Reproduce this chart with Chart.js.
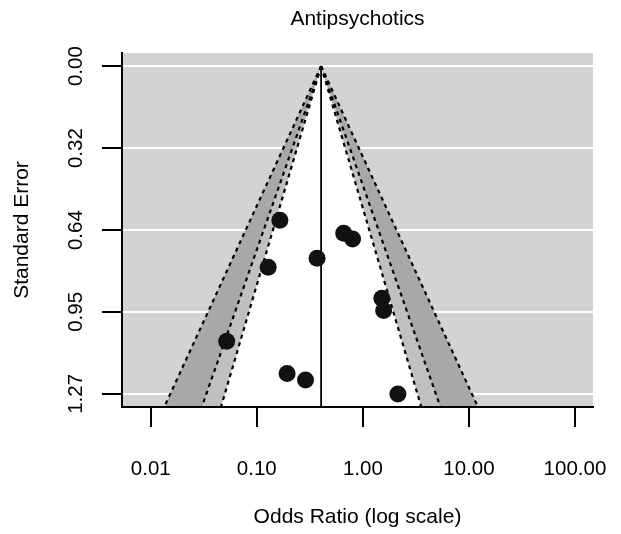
<!DOCTYPE html>
<html>
<head>
<meta charset="utf-8">
<title>Antipsychotics funnel plot</title>
<script src="https://cdn.jsdelivr.net/npm/chart.js@4/dist/chart.umd.min.js"></script>
<style>
  html, body { margin: 0; padding: 0; background: #ffffff; }
  #plot { display: block; }
</style>
</head>
<body>
<canvas id="plot" width="621" height="534"></canvas>
<script>
// Study-level odds ratios and their standard errors (log-odds scale)
const studyOR = [0.165, 0.66, 0.80, 0.37, 0.128, 1.51, 1.57, 0.052, 0.193, 0.288, 2.14];
const studySE = [0.598, 0.648, 0.670, 0.745, 0.780, 0.900, 0.948, 1.067, 1.192, 1.217, 1.271];

// Pooled estimate (odds ratio) at the centre of the funnel
const pooledOR = 0.404;

// Contour levels (%) and the matching two-sided critical values
const contourLevels = [90, 95, 99];
const zCrit = [1.645, 1.960, 2.576];
const contourShades = ['#ffffff', '#c0c0c0', '#a8a8a8'];

// Axis ticks
const xTicks = [0.01, 0.1, 1, 10, 100];
const xTickLabels = ['0.01', '0.10', '1.00', '10.00', '100.00'];
const seTicks = [0, 0.318, 0.636, 0.953, 1.271];
const seTickLabels = ['0.00', '0.32', '0.64', '0.95', '1.27'];

const FONT_FAMILY = '"Liberation Sans", Arial, Helvetica, sans-serif';
const baseFont = { family: FONT_FAMILY, size: 20.5, weight: 'normal' };
const titleFont = { family: FONT_FAMILY, size: 21, weight: 'normal' };

// Panel background, funnel contours, reference line and rotated SE labels
const funnelPlugin = {
  id: 'funnel',
  beforeDraw(chart) {
    const { ctx, chartArea: a } = chart;
    ctx.save();
    ctx.fillStyle = '#d3d3d3';
    ctx.fillRect(a.left, a.top, a.right - a.left, a.bottom - a.top);
    ctx.restore();
  },
  beforeDatasetsDraw(chart) {
    const { ctx, chartArea: a, scales: { x, y } } = chart;
    const est = Math.log(pooledOR);
    const seBottom = y.max;
    const apexX = x.getPixelForValue(pooledOR);
    const apexY = y.getPixelForValue(0);
    const yb = y.getPixelForValue(seBottom);

    ctx.save();
    ctx.beginPath();
    ctx.rect(a.left + 1, a.top, a.right - a.left - 1, a.bottom - a.top - 1);
    ctx.clip();

    const edges = zCrit.map(z => ({
      xl: x.getPixelForValue(Math.exp(est - z * seBottom)),
      xr: x.getPixelForValue(Math.exp(est + z * seBottom))
    }));

    // filled regions, widest first
    for (let i = edges.length - 1; i >= 0; i--) {
      const e = edges[i];
      ctx.beginPath();
      ctx.moveTo(e.xl, yb);
      ctx.lineTo(apexX, apexY);
      ctx.lineTo(e.xr, yb);
      ctx.closePath();
      ctx.fillStyle = contourShades[i];
      ctx.fill();
    }

    // dotted contour boundaries
    ctx.setLineDash([4, 4]);
    ctx.lineWidth = 2.2;
    ctx.strokeStyle = '#000000';
    edges.forEach(e => {
      ctx.beginPath();
      ctx.moveTo(apexX, apexY);
      ctx.lineTo(e.xl, yb);
      ctx.stroke();
      ctx.beginPath();
      ctx.moveTo(apexX, apexY);
      ctx.lineTo(e.xr, yb);
      ctx.stroke();
    });

    // solid reference line at the pooled estimate
    ctx.setLineDash([]);
    ctx.lineWidth = 1.8;
    ctx.beginPath();
    ctx.moveTo(apexX, apexY);
    ctx.lineTo(apexX, a.bottom);
    ctx.stroke();
    ctx.restore();
  },
  afterDraw(chart) {
    const { ctx, scales: { y } } = chart;
    ctx.save();
    ctx.fillStyle = '#000000';
    ctx.font = `${baseFont.size}px ${FONT_FAMILY}`;
    ctx.textAlign = 'center';
    ctx.textBaseline = 'alphabetic';
    seTicks.forEach((v, i) => {
      const py = y.getPixelForValue(v);
      ctx.save();
      ctx.translate(81.5, py);
      ctx.rotate(-Math.PI / 2);
      ctx.fillText(seTickLabels[i], 0, 0);
      ctx.restore();
    });
    ctx.restore();
  }
};

new Chart(document.getElementById('plot'), {
  type: 'scatter',
  data: {
    datasets: [{
      label: 'Studies',
      data: studyOR.map((or, i) => ({ x: or, y: studySE[i] })),
      pointRadius: 8.5,
      pointHoverRadius: 8.5,
      backgroundColor: '#111111',
      borderWidth: 0
    }]
  },
  options: {
    responsive: false,
    animation: false,
    devicePixelRatio: 1,
    layout: { padding: { left: 0, right: 28, top: 0, bottom: 0 } },
    plugins: {
      legend: { display: false },
      tooltip: { enabled: false },
      title: {
        display: true,
        text: 'Antipsychotics',
        fullSize: false,
        color: '#000000',
        font: titleFont,
        padding: { top: 7, bottom: 20.8 }
      }
    },
    scales: {
      x: {
        type: 'logarithmic',
        position: 'bottom',
        min: Math.pow(10, -2.271),
        max: Math.pow(10, 2.170),
        bounds: 'data',
        afterBuildTicks: s => { s.ticks = xTicks.map(v => ({ value: v })); },
        afterFit: s => {
          s.height = 127;
          s.paddingLeft = 0;
          s.paddingRight = 0;
        },
        grid: {
          display: true,
          drawOnChartArea: false,
          drawTicks: true,
          tickLength: 20,
          color: '#000000',
          lineWidth: 2
        },
        border: { display: true, color: '#000000', width: 2 },
        ticks: {
          color: '#000000',
          font: baseFont,
          padding: 30.5,
          autoSkip: false,
          maxRotation: 0,
          callback: (v, i) => xTickLabels[i]
        },
        title: {
          display: true,
          text: 'Odds Ratio (log scale)',
          color: '#000000',
          font: titleFont,
          padding: { top: 0, bottom: 4.4 }
        }
      },
      y: {
        type: 'linear',
        reverse: true,
        min: -0.0508,
        max: 1.3218,
        bounds: 'data',
        afterBuildTicks: s => { s.ticks = seTicks.map(v => ({ value: v })); },
        afterFit: s => {
          s.width = 122;
          s.paddingTop = 0;
          s.paddingBottom = 0;
        },
        grid: {
          color: '#ffffff',
          lineWidth: 2,
          drawTicks: true,
          tickLength: 20,
          tickColor: '#000000',
          tickWidth: 2
        },
        border: { display: true, color: '#000000', width: 2 },
        ticks: { display: false },
        title: {
          display: true,
          text: 'Standard Error',
          color: '#000000',
          font: titleFont,
          padding: { top: 9.4, bottom: 0 }
        }
      }
    }
  },
  plugins: [funnelPlugin]
});
</script>
</body>
</html>
